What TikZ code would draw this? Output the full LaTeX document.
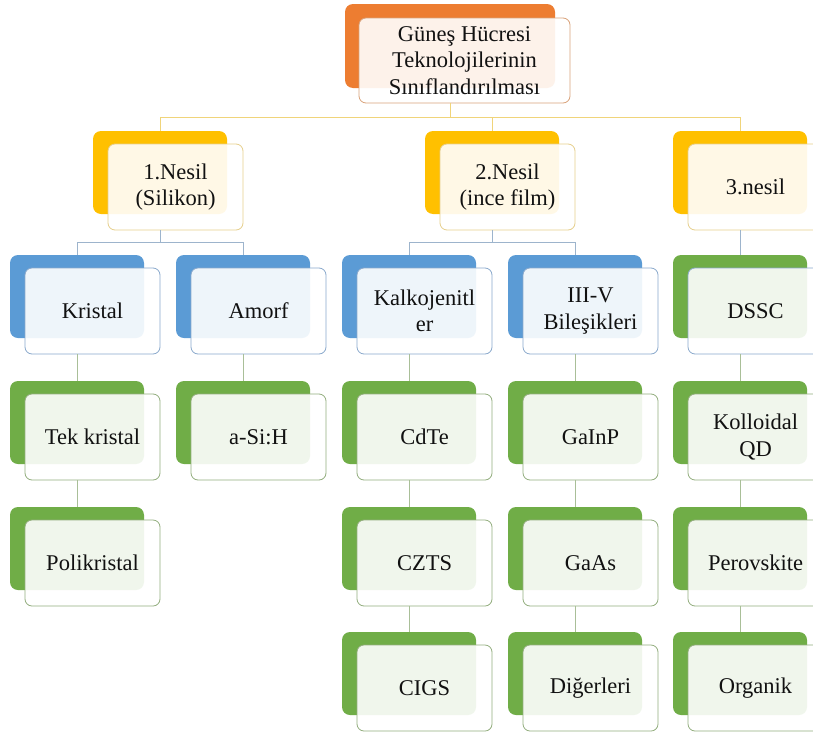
\documentclass[tikz,border=0pt]{standalone}
\usepackage{fontspec}
\setmainfont{Liberation Serif}
\newfontfamily\tnrfont{Liberation Serif}
\usetikzlibrary{calc}
\definecolor{orgback}{HTML}{ED7D31}
\definecolor{orgline}{HTML}{D9A27A}
\definecolor{goldback}{HTML}{FFC000}
\definecolor{goldline}{HTML}{E6CF8C}
\definecolor{blueback}{HTML}{5B9BD5}
\definecolor{blueline}{HTML}{8AA9CC}
\definecolor{greenback}{HTML}{70AD47}
\definecolor{greenline}{HTML}{93AE7E}
\definecolor{connY}{HTML}{F0D47A}
\definecolor{connB}{HTML}{9DB4CC}
\definecolor{connG}{HTML}{A9BF98}
\definecolor{txt}{HTML}{111111}
\tikzset{
  backbox/.style={draw=none, rounded corners=8pt, inner sep=0pt, outer sep=0pt,
    anchor=north west, minimum width=134pt, minimum height=83pt},
  frontbox/.style={rounded corners=7pt, fill=white, fill opacity=0.9, text opacity=1,
    line width=0.8pt, inner sep=0pt, outer sep=0pt, anchor=north west,
    minimum width=135pt, minimum height=86pt, align=center,
    font=\tnrfont\fontsize{22.5}{26.5}\selectfont, text=txt},
  conn/.style={line width=0.9pt},
}
\newcommand{\twobox}[6]{%
  \node[backbox, fill=#4] (#1-b) at (#2,#3) {};
  \node[frontbox, draw=#5] (#1) at ({#2+15},{#3+13}) {#6};
}
\begin{document}
\begin{tikzpicture}[x=1pt,y=-1pt]
\useasboundingbox (0,0) rectangle (813,736);
\clip (0,0) rectangle (813,736);
\fill[white] (0,0) rectangle (813,736);
% root
\node[backbox, fill=orgback, minimum width=210pt, minimum height=84pt] (root-b) at (345,4) {};
\node[frontbox, draw=orgline, minimum width=211pt, minimum height=85pt] (root) at (359,18)
  {Güneş Hücresi\\Teknolojilerinin\\Sınıflandırılması};
% level 1
\twobox{n1}{93}{131}{goldback}{goldline}{1.Nesil\\(Silikon)}
\twobox{n2}{425}{131}{goldback}{goldline}{2.Nesil\\(ince film)}
\twobox{n3}{673}{131}{goldback}{goldline}{3.nesil}
% level 2
\twobox{kri}{10}{255}{blueback}{blueline}{Kristal}
\twobox{amo}{176}{255}{blueback}{blueline}{Amorf}
\twobox{kal}{342}{255}{blueback}{blueline}{Kalkojenitl\\er}
\twobox{iii}{508}{255}{blueback}{blueline}{III-V\\Bileşikleri}
\twobox{dssc}{673}{255}{greenback}{blueline}{DSSC}
% level 3
\twobox{tek}{10}{381}{greenback}{greenline}{Tek kristal}
\twobox{asi}{176}{381}{greenback}{greenline}{a-Si:H}
\twobox{cdte}{342}{381}{greenback}{greenline}{CdTe}
\twobox{gainp}{508}{381}{greenback}{greenline}{GaInP}
\twobox{kqd}{673}{381}{greenback}{greenline}{Kolloidal\\QD}
% level 4
\twobox{poli}{10}{507}{greenback}{greenline}{Polikristal}
\twobox{czts}{342}{507}{greenback}{greenline}{CZTS}
\twobox{gaas}{508}{507}{greenback}{greenline}{GaAs}
\twobox{pero}{673}{507}{greenback}{greenline}{Perovskite}
% level 5
\twobox{cigs}{342}{632}{greenback}{greenline}{CIGS}
\twobox{dig}{508}{632}{greenback}{greenline}{Diğerleri}
\twobox{org}{673}{632}{greenback}{greenline}{Organik}
% bus coordinates
\coordinate (bus0) at (0,117);
\coordinate (bus1) at (0,242);
% connectors
\draw[conn, connY] (root-b.south |- root.south) -- (root-b.south |- bus0) -| (n1-b.north);
\draw[conn, connY] (root-b.south |- bus0) -| (n2-b.north);
\draw[conn, connY] (root-b.south |- bus0) -| (n3-b.north);
\draw[conn, connB] (n1-b.south |- n1.south) -- (n1-b.south |- bus1) -| (kri-b.north);
\draw[conn, connB] (n1-b.south |- bus1) -| (amo-b.north);
\draw[conn, connB] (n2-b.south |- n2.south) -- (n2-b.south |- bus1) -| (kal-b.north);
\draw[conn, connB] (n2-b.south |- bus1) -| (iii-b.north);
\draw[conn, connB] (n3-b.south |- n3.south) -- (dssc-b.north);
\draw[conn, connG] (kri-b.south |- kri.south) -- (tek-b.north);
\draw[conn, connG] (tek-b.south |- tek.south) -- (poli-b.north);
\draw[conn, connG] (amo-b.south |- amo.south) -- (asi-b.north);
\draw[conn, connG] (kal-b.south |- kal.south) -- (cdte-b.north);
\draw[conn, connG] (cdte-b.south |- cdte.south) -- (czts-b.north);
\draw[conn, connG] (czts-b.south |- czts.south) -- (cigs-b.north);
\draw[conn, connG] (iii-b.south |- iii.south) -- (gainp-b.north);
\draw[conn, connG] (gainp-b.south |- gainp.south) -- (gaas-b.north);
\draw[conn, connG] (gaas-b.south |- gaas.south) -- (dig-b.north);
\draw[conn, connG] (dssc-b.south |- dssc.south) -- (kqd-b.north);
\draw[conn, connG] (kqd-b.south |- kqd.south) -- (pero-b.north);
\draw[conn, connG] (pero-b.south |- pero.south) -- (org-b.north);
\end{tikzpicture}
\end{document}
